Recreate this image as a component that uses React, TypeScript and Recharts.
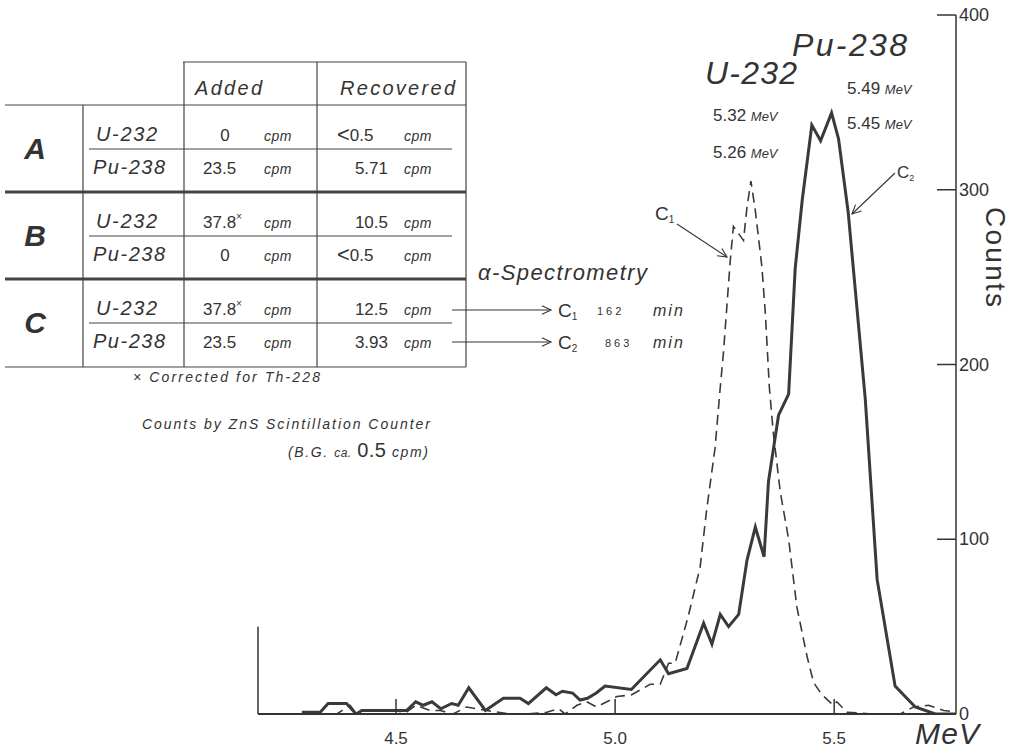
import { LineChart, Line, XAxis, YAxis, ReferenceLine } from "recharts";

// Pu-238 (solid) – energy in MeV and counts
const PU_MEV = [
  4.285, 4.327, 4.345, 4.387, 4.409, 4.422, 4.524, 4.545, 4.562, 4.582,
  4.602, 4.627, 4.642, 4.666, 4.704, 4.745, 4.783, 4.802, 4.843, 4.865,
  4.88, 4.903, 4.92, 4.937, 4.957, 4.977, 5.037, 5.103, 5.122, 5.164,
  5.202, 5.221, 5.24, 5.259, 5.282, 5.301, 5.32, 5.34, 5.35, 5.373,
  5.396, 5.411, 5.427, 5.449, 5.469, 5.494, 5.51, 5.532, 5.571, 5.598,
  5.639, 5.685, 5.731, 5.776,
];
const PU_COUNTS = [
  1, 1, 6, 6, 0, 2, 2, 7, 5, 7,
  3, 6, 5, 15, 2, 9, 9, 6, 15, 11,
  13, 12, 8, 9, 12, 16, 14, 31, 23, 26,
  52, 40, 57, 50, 57, 88, 107, 90, 133, 171,
  183, 255, 294, 337, 328, 344, 329, 287, 180, 77,
  16, 4, 0, 0,
];

// U-232 (dashed)
const U_MEV = [
  4.285, 4.33, 4.365, 4.395, 4.41, 4.502, 4.524, 4.545, 4.578, 4.601,
  4.63, 4.661, 4.707, 4.76, 4.798, 4.844, 4.871, 4.886, 4.913, 4.935,
  4.958, 5.004, 5.038, 5.08, 5.103, 5.122, 5.137, 5.167, 5.194, 5.209,
  5.228, 5.24, 5.247, 5.255, 5.263, 5.27, 5.293, 5.301, 5.31, 5.32,
  5.335, 5.343, 5.352, 5.361, 5.377, 5.396, 5.415, 5.438, 5.453, 5.472,
  5.498, 5.506, 5.529, 5.59, 5.651, 5.681, 5.715, 5.75, 5.78,
];
const U_COUNTS = [
  0, 0, 0, 5, 0, 0, 1, 5, 2, 2,
  0, 4, 2, 0, 0, 1, 3, 0, 5, 7,
  4, 10, 11, 17, 17, 29, 29, 56, 84, 117,
  152, 187, 206, 233, 260, 279, 271, 290, 305, 288,
  256, 229, 187, 161, 127, 100, 61, 33, 18, 11,
  5, 7, 1, 0, 0, 4, 5, 2, 1,
];

const X_TICKS = [4.5, 5.0, 5.5];
const Y_TICKS = [0, 100, 200, 300, 400];
const X_DOMAIN = [4.185, 5.778];

// table
const SAMPLES = ["A", "B", "C"];
const NUCLIDES = ["U-232", "Pu-238"];
const ADDED = [
  ["0", "23.5"],
  ["37.8*", "0"],
  ["37.8*", "23.5"],
];
const RECOVERED = [
  ["<0.5", "5.71"],
  ["10.5", "<0.5"],
  ["12.5", "3.93"],
];
const COUNT_TIMES = ["162", "863"];

const puData = PU_MEV.map((e, i) => ({ e, c: PU_COUNTS[i] }));
const uData = U_MEV.map((e, i) => ({ e, c: U_COUNTS[i] }));

const INK = "#333";
const FONT = "'Liberation Sans', Arial, sans-serif";

function XTick(props: any) {
  const { x, y, payload } = props;
  return (
    <g>
      <line x1={x} x2={x} y1={y} y2={y - 15} stroke={INK} strokeWidth={1.5} />
      <text x={x} y={y + 30} textAnchor="middle" fontSize={17} fill={INK} fontFamily={FONT}>
        {Number(payload.value).toFixed(1)}
      </text>
    </g>
  );
}

function YTick(props: any) {
  const { x, y, payload } = props;
  return (
    <g>
      <line x1={x - 19} x2={x} y1={y} y2={y} stroke={INK} strokeWidth={1.5} />
      <text x={x + 3} y={y + 6} fontSize={18} fill={INK} fontFamily={FONT}>
        {payload.value}
      </text>
    </g>
  );
}

function Arrow({ x1, y1, x2, y2 }: { x1: number; y1: number; x2: number; y2: number }) {
  const a = Math.atan2(y2 - y1, x2 - x1);
  const h = 10;
  const p1 = [x2 - h * Math.cos(a - 0.45), y2 - h * Math.sin(a - 0.45)];
  const p2 = [x2 - h * Math.cos(a + 0.45), y2 - h * Math.sin(a + 0.45)];
  return (
    <g stroke={INK} strokeWidth={1.1} fill="none">
      <line x1={x1} y1={y1} x2={x2} y2={y2} />
      <polyline points={`${p1[0]},${p1[1]} ${x2},${y2} ${p2[0]},${p2[1]}`} />
    </g>
  );
}

function Val({ v, x, y, anchor }: { v: string; x: number; y: number; anchor: "start" | "middle" | "end" }) {
  if (v.startsWith("<")) {
    return (
      <text x={337} y={y} fontSize={17} fill={INK} fontFamily={FONT}>
        <tspan fontSize={22} dy={1}>&lt;</tspan>
        <tspan dy={-1}>{v.slice(1)}</tspan>
      </text>
    );
  }
  if (v.endsWith("*")) {
    return (
      <text x={x} y={y} fontSize={17} fill={INK} fontFamily={FONT} textAnchor={anchor}>
        {v.slice(0, -1)}
        <tspan fontSize={10} dy={-8}>×</tspan>
      </text>
    );
  }
  return (
    <text x={x} y={y} fontSize={17} fill={INK} fontFamily={FONT} textAnchor={anchor}>
      {v}
    </text>
  );
}

function Cpm({ x, y }: { x: number; y: number }) {
  return (
    <text x={x} y={y} fontSize={14} fontStyle="italic" fill={INK} fontFamily={FONT} letterSpacing={0.5}>
      cpm
    </text>
  );
}

function Table() {
  const thin = { stroke: "#444", strokeWidth: 1.2 };
  const thick = { stroke: "#444", strokeWidth: 3.2 };
  return (
    <g fontFamily={FONT} fill={INK}>
      <line x1={183} x2={466} y1={62} y2={62} {...thin} />
      <line x1={5} x2={466} y1={105} y2={105} {...thin} />
      <line x1={5} x2={466} y1={192} y2={192} {...thick} />
      <line x1={5} x2={466} y1={279} y2={279} {...thick} />
      <line x1={5} x2={466} y1={367} y2={367} {...thin} />
      <line x1={83} x2={83} y1={105} y2={367} {...thin} />
      <line x1={184} x2={184} y1={62} y2={367} {...thin} />
      <line x1={317} x2={317} y1={62} y2={367} {...thin} />
      <line x1={466} x2={466} y1={62} y2={367} {...thin} />
      <text x={195} y={95} fontSize={20} fontStyle="italic" textLength={67}>
        Added
      </text>
      <text x={340} y={95} fontSize={20} fontStyle="italic" textLength={115}>
        Recovered
      </text>
      {SAMPLES.map((s, i) => {
        const top = 105 + 87 * i;
        const y1 = top + 36;
        const y2 = top + 69;
        return (
          <g key={s}>
            <text x={35} y={top + 54} fontSize={30} fontStyle="italic" fontWeight="bold" textAnchor="middle">
              {s}
            </text>
            <line x1={89} x2={452} y1={top + 44} y2={top + 44} stroke="#444" strokeWidth={1.2} />
            {NUCLIDES.map((n, j) => {
              const y = j === 0 ? y1 : y2;
              const a = ADDED[i][j];
              const r = RECOVERED[i][j];
              return (
                <g key={n}>
                  <text x={j === 0 ? 96 : 93} y={y} fontSize={20} fontStyle="italic" textLength={j === 0 ? 61 : 72}>
                    {n}
                  </text>
                  <Val v={a} x={a === "0" ? 225 : 203} y={y} anchor={a === "0" ? "middle" : "start"} />
                  <Cpm x={264} y={y} />
                  <Val v={r} x={388} y={y} anchor="end" />
                  <Cpm x={404} y={y} />
                </g>
              );
            })}
          </g>
        );
      })}
      <text x={133} y={382} fontSize={14} fontStyle="italic" textLength={187}>
        × Corrected for Th-228
      </text>
      <text x={142} y={429} fontSize={14} fontStyle="italic" textLength={288}>
        Counts by ZnS Scintillation Counter
      </text>
      <text x={288} y={457} fontSize={14} fontStyle="italic" letterSpacing={1.6}>
        (B.G. <tspan fontSize={12} letterSpacing={0.5}>ca.</tspan>{" "}
        <tspan fontSize={20} fontStyle="normal" letterSpacing={0.5}>0.5</tspan> cpm)
      </text>

      <text x={478} y={280} fontSize={22} fontStyle="italic" textLength={169}>
        α-Spectrometry
      </text>
      {COUNT_TIMES.map((t, i) => {
        const y = 310 + 32 * i;
        return (
          <g key={t}>
            <Arrow x1={452} y1={y} x2={551} y2={y} />
            <text x={558} y={y + 7} fontSize={19}>
              C<tspan fontSize={10} dy={3}>{i + 1}</tspan>
            </text>
            <text x={597 + 8 * i} y={y + 5} fontSize={11} letterSpacing={3}>
              {t}
            </text>
            <text x={653} y={y + 6} fontSize={16} fontStyle="italic" letterSpacing={2}>
              min
            </text>
          </g>
        );
      })}
    </g>
  );
}

function Annotations() {
  return (
    <g fontFamily={FONT} fill={INK}>
      <text x={792} y={56} fontSize={32} fontStyle="italic" textLength={115}>
        Pu-238
      </text>
      <text x={705} y={84} fontSize={32} fontStyle="italic" textLength={92}>
        U-232
      </text>
      <text x={847} y={94} fontSize={17}>
        5.49 <tspan fontSize={13} fontStyle="italic">MeV</tspan>
      </text>
      <text x={847} y={129} fontSize={17}>
        5.45 <tspan fontSize={13} fontStyle="italic">MeV</tspan>
      </text>
      <text x={713} y={121} fontSize={17}>
        5.32 <tspan fontSize={13} fontStyle="italic">MeV</tspan>
      </text>
      <text x={713} y={158} fontSize={17}>
        5.26 <tspan fontSize={13} fontStyle="italic">MeV</tspan>
      </text>
      <text x={655} y={220} fontSize={19}>
        C<tspan fontSize={10} dy={3}>1</tspan>
      </text>
      <Arrow x1={677} y1={224} x2={727} y2={257} />
      <text x={897} y={178} fontSize={17}>
        C<tspan fontSize={9} dy={3}>2</tspan>
      </text>
      <Arrow x1={895} y1={173} x2={852} y2={214} />
      <text
        x={995}
        y={257}
        fontSize={28}
        textAnchor="middle"
        dominantBaseline="central"
        transform="rotate(90 995 257)"
        textLength={100}
      >
        Counts
      </text>
      <text x={915} y={744} fontSize={30} fontStyle="italic" textLength={64}>
        MeV
      </text>
    </g>
  );
}

export default function App() {
  return (
    <div style={{ position: "absolute", left: 0, top: 0, width: 1018, height: 749, background: "#fff" }}>
      <LineChart width={1018} height={749} margin={{ top: 15, right: 12, bottom: 5, left: 258 }}>
        <XAxis
          type="number"
          dataKey="e"
          domain={X_DOMAIN}
          ticks={X_TICKS}
          allowDataOverflow
          height={30}
          tickSize={0}
          tickMargin={0}
          tickLine={false}
          axisLine={{ stroke: INK, strokeWidth: 1.8 }}
          tick={XTick}
        />
        <YAxis
          orientation="right"
          type="number"
          dataKey="c"
          domain={[0, 400]}
          ticks={Y_TICKS}
          allowDataOverflow
          width={50}
          tickSize={0}
          tickMargin={0}
          tickLine={false}
          axisLine={{ stroke: INK, strokeWidth: 1.5 }}
          tick={YTick}
        />
        <ReferenceLine
          segment={[
            { x: X_DOMAIN[0], y: 0 },
            { x: X_DOMAIN[0], y: 50 },
          ]}
          stroke={INK}
          strokeWidth={1.5}
        />
        <Line
          data={uData}
          dataKey="c"
          type="linear"
          stroke="#3a3a3a"
          strokeWidth={1.6}
          strokeDasharray="10 6"
          dot={false}
          isAnimationActive={false}
        />
        <Line
          data={puData}
          dataKey="c"
          type="linear"
          stroke="#3a3a3a"
          strokeWidth={3}
          dot={false}
          isAnimationActive={false}
        />
      </LineChart>
      <svg
        width={1018}
        height={749}
        style={{ position: "absolute", left: 0, top: 0, pointerEvents: "none" }}
      >
        <Table />
        <Annotations />
      </svg>
    </div>
  );
}
